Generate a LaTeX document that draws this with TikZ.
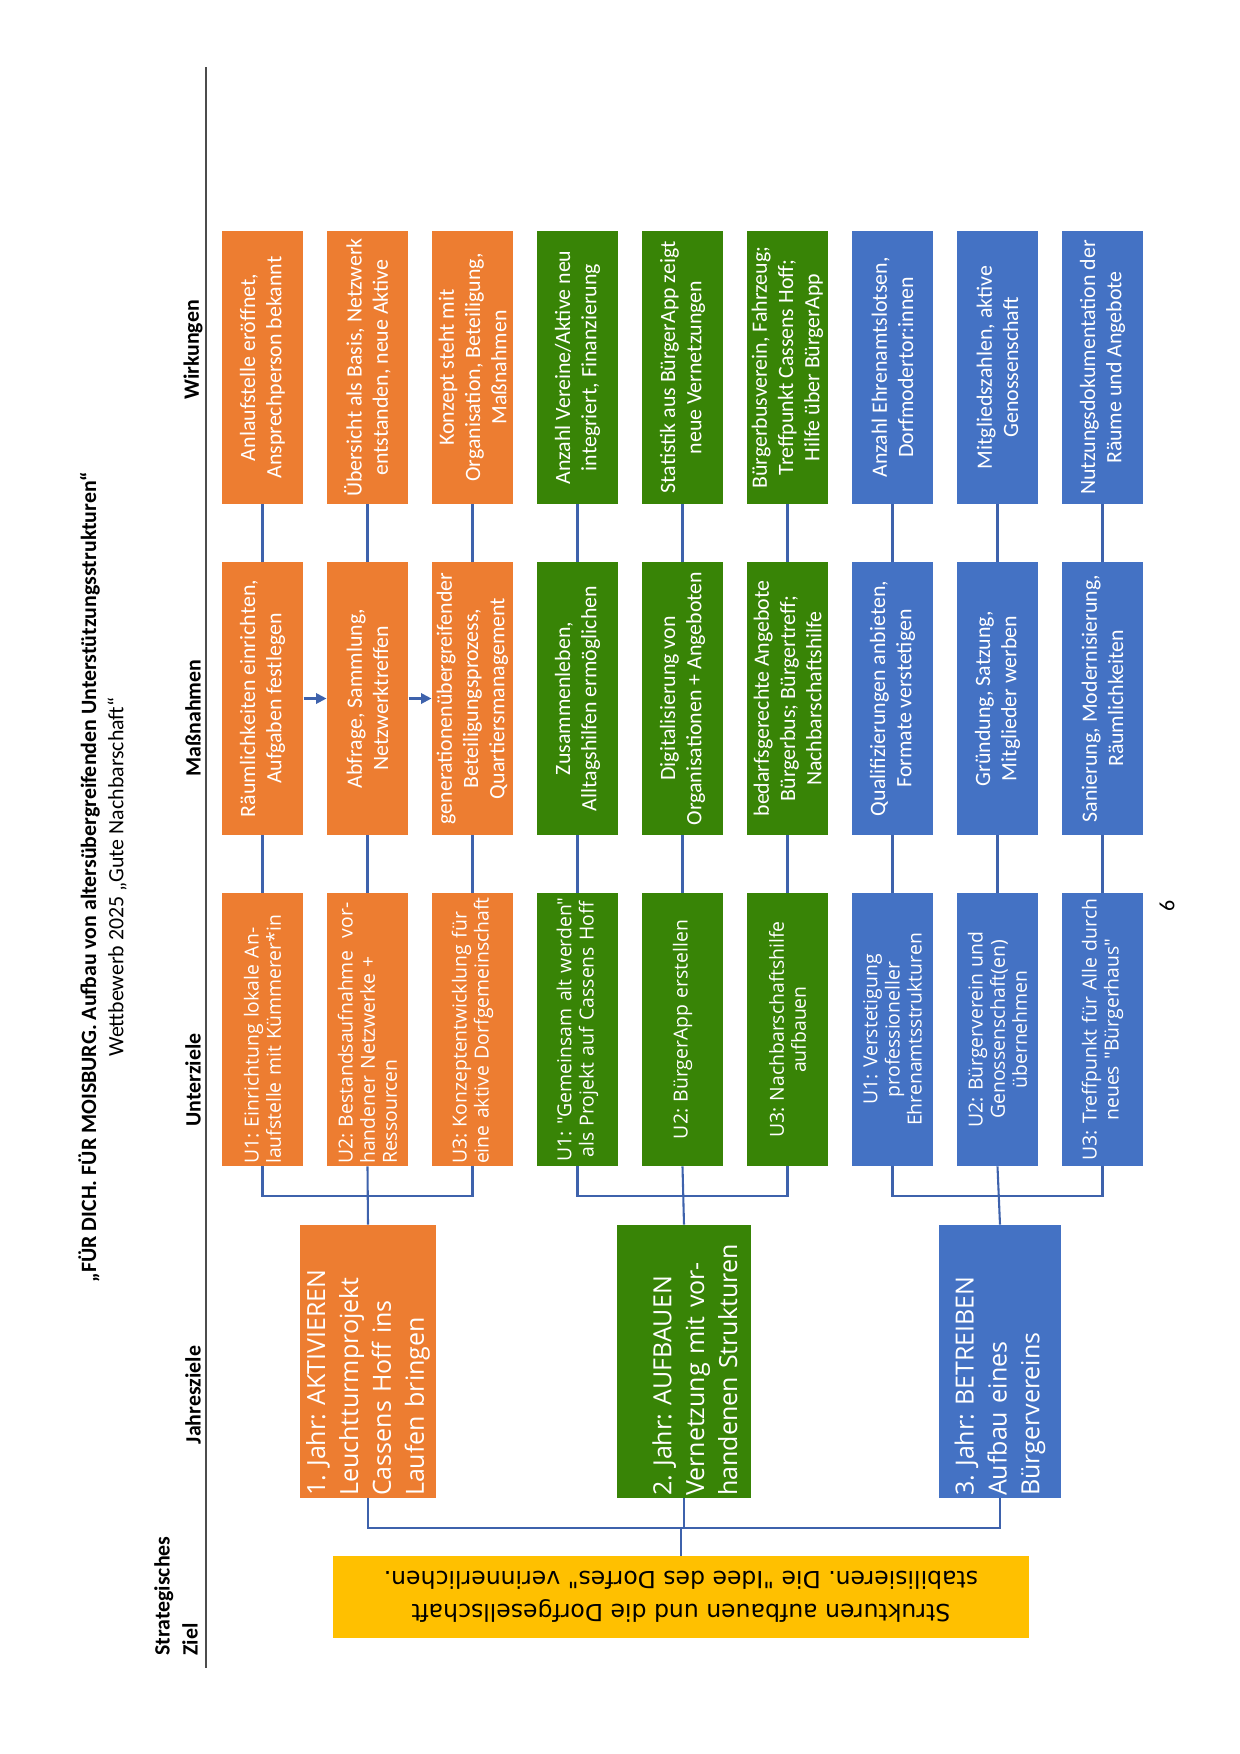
\documentclass[tikz,border=0pt]{standalone}
\usepackage{fontspec}
\setmainfont{Carlito}
\newfontfamily\boxfont{Open Sans}
\newfontfamily\goalfont{DejaVu Sans}
\frenchspacing
\usetikzlibrary{arrows.meta,positioning}
\definecolor{orangebox}{RGB}{237,125,49}
\definecolor{greenbox}{RGB}{56,132,6}
\definecolor{bluebox}{RGB}{68,114,196}
\definecolor{goldbox}{RGB}{255,192,0}
\definecolor{linkblue}{RGB}{62,98,172}
\tikzset{
  colbox/.style = {rotate=90, text=white, inner sep=1pt, minimum width=131pt, minimum height=39pt, align=center},
  subgoal/.style = {colbox, font=\boxfont\fontsize{9.3}{10.6}\selectfont, text width=129pt},
  measure/.style = {colbox, font=\fontsize{10.5}{12.6}\selectfont},
  yeargoal/.style = {colbox, font=\boxfont\fontsize{12}{15.8}\selectfont, text width=129pt, align=left},
  header/.style = {rotate=90, font=\bfseries\fontsize{10.5}{13.4}\selectfont},
  link/.style = {draw=linkblue, line width=1pt},
  flow/.style = {link, -{Triangle[length=5pt,width=5pt]}},
  rule/.style = {draw=black!70, line width=0.8pt},
}

\begin{document}
\begin{tikzpicture}[x=0.48pt, y=-0.48pt]
\useasboundingbox (0,0) rectangle (1240,1754);

% title and column heads
\node[rotate=90, font=\bfseries\fontsize{10.5}{12}\selectfont] (title) at (89,877)
  {„FÜR DICH. FÜR MOISBURG. Aufbau von altersübergreifenden Unterstützungsstrukturen“};
\node[rotate=90, font=\fontsize{10.5}{12}\selectfont] (subtitle) at (117,877)
  {Wettbewerb 2025 „Gute Nachbarschaft“};
\node[header] (hw) at (193,350) {Wirkungen};
\node[header] (hm) at (193,718) {Maßnahmen};
\node[header] (hu) at (193,1080) {Unterziele};
\node[header] (hj) at (193,1395) {Jahresziele};
\node[header, align=left, anchor=west] (hs) at (176,1663) {Strategisches\\Ziel};
\coordinate (ruletop) at (206,67);
\coordinate (rulebot) at (206,1668);
\draw[rule] (ruletop) -- (rulebot);

% strategic goal
\node[rotate=180, fill=goldbox, minimum width=334pt, minimum height=39.4pt, inner sep=1pt,
  align=center, font=\goalfont\fontsize{11.3}{16}\selectfont] (goal) at (681,1597)
  {Strukturen aufbauen und die Dorfgesellschaft\\stabilisieren. Die "Idee des Dorfes" verinnerlichen.};

% year 1: orange
\node[yeargoal, fill=orangebox, minimum height=65pt] (j1) at (368,1361.5)
  {1. Jahr: AKTIVIEREN\\Leuchtturmprojekt\\Cassens Hoff ins\\Laufen bringen};
\node[subgoal, fill=orangebox, align=left] (u11) at (262.5,1029.5)
  {U1: Einrichtung lokale An-\\laufstelle mit Kümmerer*in};
\node[subgoal, fill=orangebox, align=left] (u12) at (367.5,1029.5)
  {U2: Bestandsaufnahme \ vor-\\handener Netzwerke +\\Ressourcen};
\node[subgoal, fill=orangebox, align=left] (u13) at (472.5,1029.5)
  {U3: Konzeptentwicklung für\\eine aktive Dorfgemeinschaft};
\node[measure, fill=orangebox] (m11) at (262.5,698.5) {Räumlichkeiten einrichten,\\Aufgaben festlegen};
\node[measure, fill=orangebox] (m12) at (367.5,698.5) {Abfrage, Sammlung,\\Netzwerktreffen};
\node[measure, fill=orangebox] (m13) at (472.5,698.5)
  {generationenübergreifender\\Beteiligungsprozess,\\Quartiersmanagement};
\node[measure, fill=orangebox] (w11) at (262.5,367.5) {Anlaufstelle eröffnet,\\Ansprechperson bekannt};
\node[measure, fill=orangebox] (w12) at (367.5,367.5) {Übersicht als Basis, Netzwerk\\entstanden, neue Aktive};
\node[measure, fill=orangebox] (w13) at (472.5,367.5) {Konzept steht mit\\Organisation, Beteiligung,\\Maßnahmen};

% year 2: green
\node[yeargoal, fill=greenbox, minimum height=64pt, text height=19.5pt] (j2) at (684,1361.5)
  {2. Jahr: AUFBAUEN\\Vernetzung mit vor-\\handenen Strukturen};
\node[subgoal, fill=greenbox] (u21) at (577.5,1029.5)
  {U1: "Gemeinsam alt werden"\\als Projekt auf Cassens Hoff};
\node[subgoal, fill=greenbox] (u22) at (682.5,1029.5) {U2: BürgerApp erstellen};
\node[subgoal, fill=greenbox] (u23) at (787.5,1029.5) {U3: Nachbarschaftshilfe\\aufbauen};
\node[measure, fill=greenbox] (m21) at (577.5,698.5) {Zusammenleben,\\Alltagshilfen ermöglichen};
\node[measure, fill=greenbox] (m22) at (682.5,698.5) {Digitalisierung von\\Organisationen + Angeboten};
\node[measure, fill=greenbox] (m23) at (787.5,698.5)
  {bedarfsgerechte Angebote\\Bürgerbus; Bürgertreff;\\Nachbarschaftshilfe};
\node[measure, fill=greenbox] (w21) at (577.5,367.5) {Anzahl Vereine/Aktive neu\\integriert, Finanzierung};
\node[measure, fill=greenbox] (w22) at (682.5,367.5) {Statistik aus BürgerApp zeigt\\neue Vernetzungen};
\node[measure, fill=greenbox] (w23) at (787.5,367.5)
  {Bürgerbusverein, Fahrzeug;\\Treffpunkt Cassens Hoff;\\Hilfe über BürgerApp};

% year 3: blue
\node[yeargoal, fill=bluebox, minimum height=58.5pt] (j3) at (1000,1361.5)
  {3. Jahr: BETREIBEN\\Aufbau eines\\Bürgervereins};
\node[subgoal, fill=bluebox] (u31) at (892.5,1029.5)
  {U1: Verstetigung\\professioneller\\Ehrenamtsstrukturen};
\node[subgoal, fill=bluebox] (u32) at (997.5,1029.5)
  {U2: Bürgerverein und\\Genossenschaft(en)\\übernehmen};
\node[subgoal, fill=bluebox] (u33) at (1102.5,1029.5)
  {U3: Treffpunkt für Alle durch\\neues "Bürgerhaus"};
\node[measure, fill=bluebox] (m31) at (892.5,698.5) {Qualifizierungen anbieten,\\Formate verstetigen};
\node[measure, fill=bluebox] (m32) at (997.5,698.5) {Gründung, Satzung,\\Mitglieder werben};
\node[measure, fill=bluebox] (m33) at (1102.5,698.5) {Sanierung, Modernisierung,\\Räumlichkeiten};
\node[measure, fill=bluebox] (w31) at (892.5,367.5) {Anzahl Ehrenamtslotsen,\\Dorfmodertor:innen};
\node[measure, fill=bluebox] (w32) at (997.5,367.5) {Mitgliedszahlen, aktive\\Genossenschaft};
\node[measure, fill=bluebox] (w33) at (1102.5,367.5) {Nutzungsdokumentation der\\Räume und Angebote};

% goal -> years
\draw[link] (j1.west) -- ++(0,30) -| (j3.west);
\draw[link] (j2.west) -- ++(0,30);
\draw[link] (goal.south) -- ++(0,-28);

% years -> subgoals
\draw[link] (u11.west) -- ++(0,30) -| (u13.west);
\draw[link] (u12.west) -- (j1.east);
\draw[link] (u21.west) -- ++(0,30) -| (u23.west);
\draw[link] (u22.west) -- (j2.east);
\draw[link] (u31.west) -- ++(0,30) -| (u33.west);
\draw[link] (u32.west) -- (j3.east);

% subgoals -> measures -> effects
\draw[link] (u11.east) -- (m11.west);
\draw[link] (u12.east) -- (m12.west);
\draw[link] (u13.east) -- (m13.west);
\draw[link] (u21.east) -- (m21.west);
\draw[link] (u22.east) -- (m22.west);
\draw[link] (u23.east) -- (m23.west);
\draw[link] (u31.east) -- (m31.west);
\draw[link] (u32.east) -- (m32.west);
\draw[link] (u33.east) -- (m33.west);
\draw[link] (m11.east) -- (w11.west);
\draw[link] (m12.east) -- (w12.west);
\draw[link] (m13.east) -- (w13.west);
\draw[link] (m21.east) -- (w21.west);
\draw[link] (m22.east) -- (w22.west);
\draw[link] (m23.east) -- (w23.west);
\draw[link] (m31.east) -- (w31.west);
\draw[link] (m32.east) -- (w32.west);
\draw[link] (m33.east) -- (w33.west);

% measure chain in year 1
\draw[flow] (m11.south) -- (m12.north);
\draw[flow] (m12.south) -- (m13.north);

% page number
\node[rotate=90, font=\fontsize{10.5}{12}\selectfont] (pagenum) at (1167,906) {6};
\end{tikzpicture}
\end{document}
